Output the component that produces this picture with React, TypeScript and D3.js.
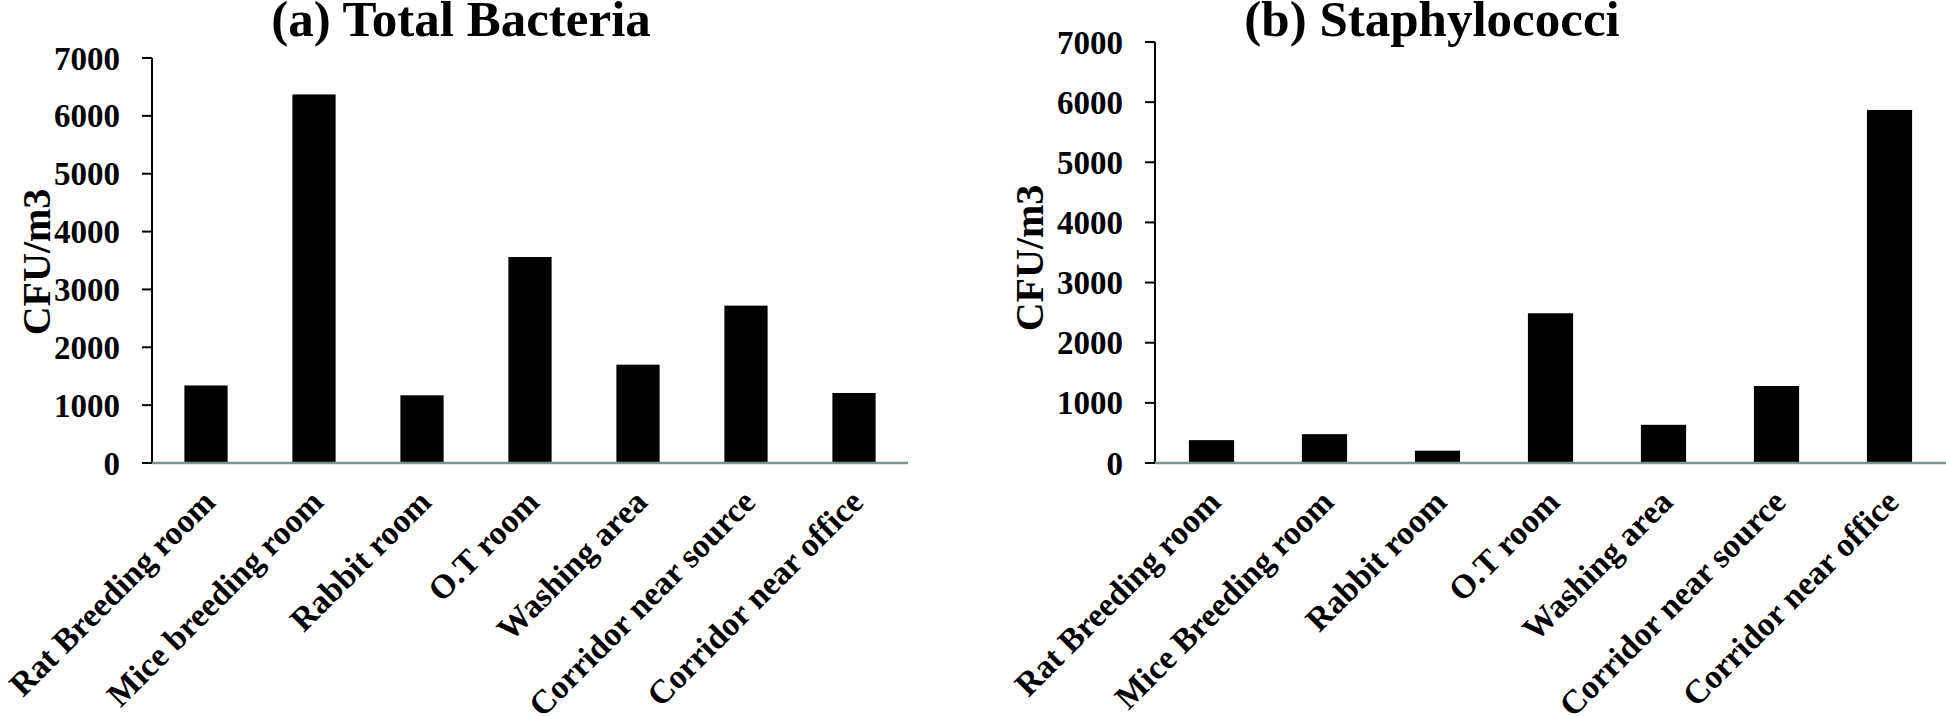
import * as d3 from 'd3';

// Sampling rooms, left and right panels share the same order.
const roomsA = [
  'Rat Breeding room',
  'Mice breeding room',
  'Rabbit room',
  'O.T room',
  'Washing area',
  'Corridor near source',
  'Corridor near office',
];
const roomsB = [
  'Rat Breeding room',
  'Mice Breeding room',
  'Rabbit room',
  'O.T room',
  'Washing area',
  'Corridor near source',
  'Corridor near office',
];

// CFU/m3.
const totalBacteria = [1340, 6370, 1170, 3560, 1700, 2720, 1210];
const staphylococci = [380, 480, 205, 2490, 635, 1280, 5870];

const yTicks = [0, 1000, 2000, 3000, 4000, 5000, 6000, 7000];

const WIDTH = 1946;
const HEIGHT = 716;
const BASE_Y = 463;
const FONT = '"Liberation Serif", "Times New Roman", serif';

interface PanelProps {
  title: string;
  categories: string[];
  values: number[];
  x0: number;
  x1: number;
  yTop: number;
  titleX: number;
  yTitleX: number;
  yTitleY: number;
}

function Panel({ title, categories, values, x0, x1, yTop, titleX, yTitleX, yTitleY }: PanelProps) {
  const x = d3.scaleBand<string>().domain(categories.map((c, i) => `${i}`)).range([x0, x1]).padding(0);
  const y = d3.scaleLinear().domain([0, 7000]).range([BASE_Y, yTop]);
  const barW = x.bandwidth() * 0.4;

  return (
    <g>
      <text
        x={titleX}
        y={36}
        textAnchor="middle"
        fontFamily={FONT}
        fontWeight="bold"
        fontSize={51}
        fill="#000"
      >
        {title}
      </text>

      {/* bars */}
      {values.map((v, i) => {
        const cx = (x(`${i}`) ?? 0) + x.bandwidth() / 2;
        return (
          <rect
            key={`bar-${i}`}
            x={cx - barW / 2}
            y={y(v)}
            width={barW}
            height={BASE_Y - y(v)}
            fill="#000"
          />
        );
      })}

      {/* y axis */}
      <line x1={x0} x2={x0} y1={y(7000)} y2={BASE_Y} stroke="#000" strokeWidth={2} />
      {yTicks.map(t => (
        <g key={`tick-${t}`}>
          <line x1={x0 - 10} x2={x0} y1={y(t)} y2={y(t)} stroke="#000" strokeWidth={2} />
          <text
            x={x0 - 32}
            y={y(t)}
            dy="0.35em"
            textAnchor="end"
            fontFamily={FONT}
            fontWeight="bold"
            fontSize={33}
            fill="#000"
          >
            {t}
          </text>
        </g>
      ))}

      {/* baseline */}
      <line x1={x0} x2={x1} y1={BASE_Y} y2={BASE_Y} stroke="#7f9393" strokeWidth={2.5} />

      <text
        transform={`translate(${yTitleX},${yTitleY}) rotate(-90)`}
        textAnchor="middle"
        fontFamily={FONT}
        fontWeight="bold"
        fontSize={40}
        fill="#000"
      >
        CFU/m3
      </text>

      {/* category labels, rotated */}
      {categories.map((c, i) => {
        const cx = (x(`${i}`) ?? 0) + x.bandwidth() / 2;
        return (
          <text
            key={`lab-${i}`}
            transform={`translate(${cx + 11},${BASE_Y + 41}) rotate(-45)`}
            textAnchor="end"
            fontFamily={FONT}
            fontWeight="bold"
            fontSize={33.5}
            fill="#000"
          >
            {c}
          </text>
        );
      })}
    </g>
  );
}

export default function App() {
  return (
    <svg
      width={WIDTH}
      height={HEIGHT}
      viewBox={`0 0 ${WIDTH} ${HEIGHT}`}
      style={{ position: 'absolute', left: 0, top: 0, background: '#fff' }}
    >
      <rect width={WIDTH} height={HEIGHT} fill="#fff" />
      <Panel
        title="(a) Total Bacteria"
        categories={roomsA}
        values={totalBacteria}
        x0={152}
        x1={908}
        yTop={58}
        titleX={461}
        yTitleX={50}
        yTitleY={262}
      />
      <Panel
        title="(b) Staphylococci"
        categories={roomsB}
        values={staphylococci}
        x0={1155}
        x1={1946}
        yTop={42}
        titleX={1432}
        yTitleX={1043}
        yTitleY={258}
      />
    </svg>
  );
}
